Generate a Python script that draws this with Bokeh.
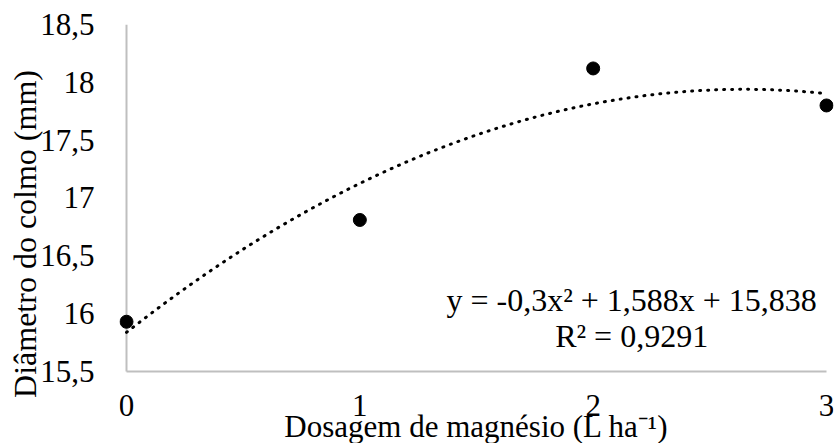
import numpy as np
from bokeh.plotting import figure
from bokeh.models import Range1d, Label, FixedTicker
from bokeh.embed import file_html
from bokeh.resources import INLINE

# Data
doses = [0, 1, 2, 3]
diametro = [15.93, 16.81, 18.12, 17.80]
trend_coef = [-0.3, 1.588, 15.838]  # y = a x^2 + b x + c
x_ticks = [0, 1, 2, 3]
x_tick_labels = ["0", "1", "2", "3"]
y_ticks = [15.5, 16, 16.5, 17, 17.5, 18, 18.5]
y_tick_labels = ["15,5", "16", "16,5", "17", "17,5", "18", "18,5"]
eq_text = "y = -0,3x² + 1,588x + 15,838"
r2_text = "R² = 0,9291"
x_title = "Dosagem de magnésio (L ha⁻¹)"
y_title = "Diâmetro do colmo (mm)"
x_min, x_max = 0, 3
y_min, y_max = 15.5, 18.5

FONT = "Liberation Serif"
GRAY = "#bfbfbf"

p = figure(width=834, height=443, output_backend="svg", toolbar_location=None,
           x_range=Range1d(-0.03, 3.03), y_range=Range1d(14.8775, y_max),
           min_border_left=119, min_border_right=1, min_border_top=24, min_border_bottom=0)
p.outline_line_color = None
p.grid.grid_line_color = None
p.background_fill_color = "white"
p.border_fill_color = "white"

p.xaxis.ticker = FixedTicker(ticks=x_ticks)
p.xaxis.major_label_overrides = dict(zip(x_ticks, x_tick_labels))
p.yaxis.ticker = FixedTicker(ticks=y_ticks)
p.yaxis.major_label_overrides = dict(zip(y_ticks, y_tick_labels))
for ax in (p.xaxis, p.yaxis):
    ax.major_tick_line_color = None
    ax.minor_tick_line_color = None
    ax.major_label_text_font = FONT
    ax.major_label_text_font_size = "31px"
    ax.major_label_text_color = "black"
    ax.axis_label_text_font = FONT
    ax.axis_label_text_font_size = "31px"
    ax.axis_label_text_font_style = "normal"
    ax.axis_label_text_color = "black"

# x axis sits at y = 15.5 inside the frame
p.xaxis.fixed_location = y_min
p.xaxis.bounds = (x_min, x_max)
p.xaxis.axis_line_color = GRAY
p.xaxis.axis_line_width = 2
p.xaxis.major_label_standoff = 18
p.xaxis.axis_label = x_title
p.xaxis.axis_label_standoff = -11

# y axis labels in the left panel; its line drawn at x = 0
p.yaxis.bounds = (y_min, y_max)
p.yaxis.axis_line_color = None
p.yaxis.major_label_standoff = 19
p.yaxis.axis_label = y_title
p.yaxis.axis_label_text_font_size = "32px"
p.yaxis.axis_label_standoff = -6
p.segment(x0=[x_min], y0=[y_min], x1=[x_min], y1=[y_max], line_color=GRAY, line_width=2)

xs = np.linspace(min(doses), max(doses), 200)
ys = np.polyval(trend_coef, xs)
p.line(xs, ys, line_color="black", line_width=3, line_dash="1 7", line_cap="round")

p.scatter(doses, diametro, size=13, fill_color="black", line_color="black")

p.add_layout(Label(x=2.165, y=16.12, text=eq_text, text_font=FONT, text_font_size="32px",
                   text_align="center", text_baseline="middle", text_color="black"))
p.add_layout(Label(x=2.165, y=15.81, text=r2_text, text_font=FONT, text_font_size="32px",
                   text_align="center", text_baseline="middle", text_color="black"))

open("out.html", "w").write(file_html(p, INLINE))
